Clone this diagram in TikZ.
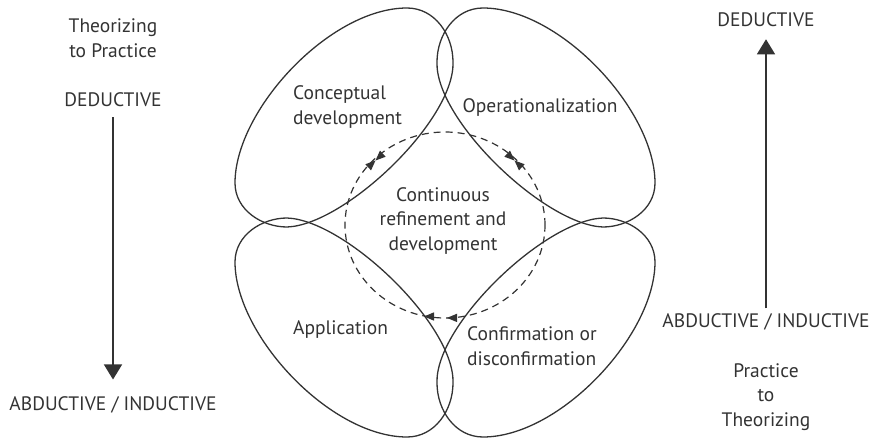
\documentclass[tikz,border=0pt]{standalone}
\usepackage{fontspec}
\setmainfont{PT Sans}
\usetikzlibrary{arrows.meta}
\definecolor{ink}{HTML}{333333}
\begin{document}
\begin{tikzpicture}[x=1pt,y=-1pt,
  lbl/.style={text=ink, inner sep=0pt, align=center, font=\fontsize{19.5}{24.5}\selectfont},
  lobe/.style={draw=ink, line width=1.3pt},
  bigarrow/.style={draw=ink, line width=1.3pt, -{Triangle[width=18pt,length=15pt]}},
  dtri/.pic={\fill[ink] (0,0) -- (-10,4.2) -- (-10,-4.2) -- cycle;}]
\useasboundingbox (0,0) rectangle (876,444);
% four lobes
\foreach \sx/\sy in {1/1,-1/1,1/-1,-1/-1}{
  \begin{scope}[xshift={(1-\sx)*445}, yshift={(\sy-1)*222.5}, xscale=\sx, yscale=\sy]
    \draw[lobe] (407,8) .. controls (435,8) and (453,35) .. (453,62)
      .. controls (455,120) and (345,225) .. (287,227)
      .. controls (262,227) and (235,210) .. (235,183)
      .. controls (235,110) and (330,8) .. cycle;
  \end{scope}
}
% dashed cycle
\draw[ink, line width=1.2pt, dash pattern=on 7pt off 5pt] (445,225) ellipse [x radius=100pt, y radius=93pt];
\pic[rotate=223] at (375.5,160.5) {dtri};
\pic[rotate=43] at (375.5,160.5) {dtri};
\pic[rotate=137] at (514.5,160.5) {dtri};
\pic[rotate=317] at (514.5,160.5) {dtri};
\pic[rotate=180] at (424,316.5) {dtri};
\pic[rotate=180] at (447,317.9) {dtri};
% lobe labels
\node[lbl, align=left, anchor=west] (cd) at (293,107) {Conceptual\\development};
\node[lbl] (op) at (540,108) {Operationalization};
\node[lbl] (cr) at (443,221) {Continuous\\refinement and\\development};
\node[lbl, anchor=west] (ap) at (293,330) {Application};
\node[lbl, align=left, anchor=west] (cf) at (467,346) {Confirmation or\\disconfirmation};
% left column
\node[lbl] (tp) at (113,38) {Theorizing\\to Practice};
\node[lbl] (ded1) at (113,100) {DEDUCTIVE};
\node[lbl] (abd1) at (113,405) {ABDUCTIVE / INDUCTIVE};
\draw[bigarrow, shorten <=10pt, shorten >=17pt] (ded1.south) -- (abd1.north);
% right column
\node[lbl] (ded2) at (766,20) {DEDUCTIVE};
\node[lbl] (abd2) at (766,322) {ABDUCTIVE / INDUCTIVE};
\node[lbl] (pt) at (766,397) {Practice\\to\\Theorizing};
\draw[bigarrow, shorten <=5pt, shorten >=12pt] (abd2.north) -- (ded2.south);
\end{tikzpicture}
\end{document}
